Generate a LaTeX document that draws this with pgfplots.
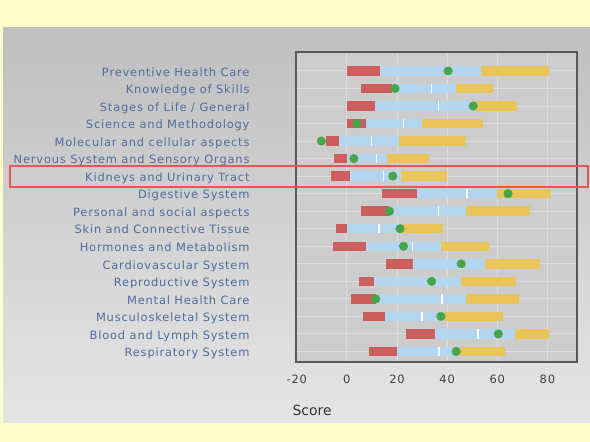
\documentclass[border=0pt]{standalone}
\usepackage{pgfplots}
\pgfplotsset{compat=1.18}
\usepackage{fontspec}
\setmainfont{DejaVu Sans}
\newfontfamily\labfont[LetterSpace=7]{DejaVu Sans}
\definecolor{ybg}{HTML}{FFFDCC}
\definecolor{gtop}{HTML}{BFBFBF}
\definecolor{gbot}{HTML}{E5E5E5}
\definecolor{plotbg}{HTML}{CCCCCC}
\definecolor{gridc}{HTML}{DCDCDC}
\definecolor{frame}{HTML}{585858}
\definecolor{labc}{HTML}{4E6C9E}
\definecolor{barred}{HTML}{CC5E5E}
\definecolor{barblue}{HTML}{B3D5EE}
\definecolor{baryel}{HTML}{E8C45A}
\definecolor{dotg}{HTML}{46A548}
\definecolor{hilite}{HTML}{E85555}
\begin{document}
\begin{tikzpicture}
\path[use as bounding box] (0,0) rectangle (590bp,442bp);
\fill[ybg] (0,0) rectangle (590bp,442bp);
\shade[top color=gtop, bottom color=gbot] (3bp,19bp) rectangle (590bp,414bp);
\begin{axis}[
  at={(296bp,80bp)}, anchor=south west,
  scale only axis, width=281bp, height=310bp,
  xmin=-20.3, xmax=91.8, ymin=-1.08, ymax=16.6, y dir=reverse,
  axis background/.style={fill=plotbg},
  axis line style={draw=frame, line width=2bp},
  xtick={-20,0,20,40,60,80}, ytick={0,...,16},
  yticklabels={Preventive Health Care, Knowledge of Skills, Stages of Life / General, Science and Methodology, Molecular and cellular aspects, Nervous System and Sensory Organs, Kidneys and Urinary Tract, Digestive System, Personal and social aspects, Skin and Connective Tissue, Hormones and Metabolism, Cardiovascular System, Reproductive System, Mental Health Care, Musculoskeletal System, Blood and Lymph System, Respiratory System},
  major tick length=0pt,
  grid=major, grid style={draw=gridc, line width=1bp},
  /pgf/number format/assume math mode=true,
  xticklabel style={font=\labfont\fontsize{11.5}{13}\selectfont, text=black!75, yshift=-9bp},
  yticklabel style={font=\labfont\fontsize{11.5}{13}\selectfont, text=labc, anchor=east, xshift=-43bp, yshift=-2.2bp, text height=8.6bp, text depth=2.6bp},
  unbounded coords=jump,
  clip=false,
]
% red: start -> q1
\addplot[barred, line width=9.5bp] coordinates {(0,0) (13.4,0) (nan,nan) (5.6,1) (17.8,1) (nan,nan) (0,2) (11.4,2) (nan,nan) (0,3) (7.5,3) (nan,nan) (-8.2,4) (-3.2,4) (nan,nan) (-5.2,5) (0,5) (nan,nan) (-6.4,6) (1.4,6) (nan,nan) (14.2,7) (28,7) (nan,nan) (5.6,8) (17,8) (nan,nan) (-4.3,9) (0,9) (nan,nan) (-5.5,10) (7.5,10) (nan,nan) (15.6,11) (26.4,11) (nan,nan) (4.7,12) (10.7,12) (nan,nan) (1.5,13) (11.5,13) (nan,nan) (6.6,14) (15.4,14) (nan,nan) (23.4,15) (35.2,15) (nan,nan) (8.9,16) (20,16)};
% blue: q1 -> q3
\addplot[barblue, line width=9.5bp] coordinates {(13.4,0) (53.4,0) (nan,nan) (17.8,1) (43.5,1) (nan,nan) (11.4,2) (50.2,2) (nan,nan) (7.5,3) (29.8,3) (nan,nan) (-3.2,4) (20.8,4) (nan,nan) (0,5) (16,5) (nan,nan) (1.4,6) (21.5,6) (nan,nan) (28,7) (60,7) (nan,nan) (17,8) (47.5,8) (nan,nan) (0,9) (21,9) (nan,nan) (7.5,10) (37.5,10) (nan,nan) (26.4,11) (54.9,11) (nan,nan) (10.7,12) (45.6,12) (nan,nan) (11.5,13) (47.5,13) (nan,nan) (15.4,14) (38.8,14) (nan,nan) (35.2,15) (67,15) (nan,nan) (20,16) (45,16)};
% yellow: q3 -> max
\addplot[baryel, line width=9.5bp] coordinates {(53.4,0) (80.8,0) (nan,nan) (43.5,1) (58.4,1) (nan,nan) (50.2,2) (67.9,2) (nan,nan) (29.8,3) (54.4,3) (nan,nan) (20.8,4) (47.5,4) (nan,nan) (16,5) (32.9,5) (nan,nan) (21.5,6) (39.9,6) (nan,nan) (60,7) (81.5,7) (nan,nan) (47.5,8) (73,8) (nan,nan) (21,9) (38.2,9) (nan,nan) (37.5,10) (56.7,10) (nan,nan) (54.9,11) (77,11) (nan,nan) (45.6,12) (67.5,12) (nan,nan) (47.5,13) (68.8,13) (nan,nan) (38.8,14) (62.2,14) (nan,nan) (67,15) (80.8,15) (nan,nan) (45,16) (63.1,16)};
% median ticks
\addplot[white, only marks, mark=|, mark size=4.75bp, mark options={draw=white, line width=1.6bp}] coordinates {(40.4,0) (33.8,1) (36.6,2) (22.6,3) (9.8,4) (11.8,5) (14.6,6) (47.8,7) (36.6,8) (12.8,9) (26.2,10) (45.6,11) (33.8,12) (38,13) (29.9,14) (52.2,15) (36.8,16)};
% scores
\addplot[dotg, only marks, mark=*, mark size=4.3bp, mark options={draw=none, fill=dotg}] coordinates {(40.4,0) (19.2,1) (50.4,2) (4,3) (-10.2,4) (2.8,5) (18.3,6) (64.3,7) (17,8) (21.2,9) (22.6,10) (45.6,11) (33.8,12) (11.5,13) (37.5,14) (60.4,15) (43.6,16)};
\end{axis}
\node[anchor=west, font=\fontsize{14}{16}\selectfont, text=black!80] at (289bp,31.5bp) {Score};
\draw[hilite, line width=1.5bp] (10bp,255bp) rectangle (588bp,276bp);
\end{tikzpicture}
\end{document}
